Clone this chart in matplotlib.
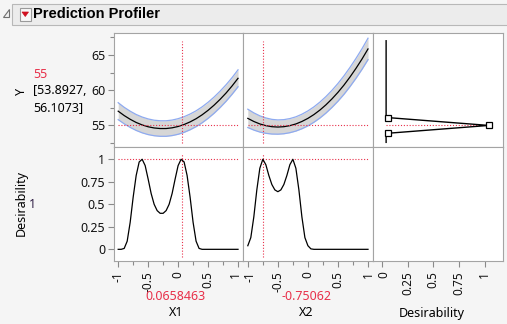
"""
JMP-style prediction profiler: predicted Y and desirability traces for X1, X2.
"""
import matplotlib
matplotlib.use("Agg")
import matplotlib.pyplot as plt
from matplotlib.patches import Rectangle, Polygon
from matplotlib.ticker import FixedLocator, MultipleLocator
from matplotlib.transforms import ScaledTranslation

plt.rcParams.update({
    "font.family": "Noto Sans",
    "font.size": 8.5,
    "axes.linewidth": 0.8,
    "xtick.color": "#8a8a8a",
    "ytick.color": "#8a8a8a",
    "xtick.labelcolor": "#111111",
    "ytick.labelcolor": "#111111",
})

W, H = 507, 324

# ---------- data ----------
x_grid = [-1.0, -0.9, -0.8, -0.7, -0.6, -0.5, -0.4, -0.3, -0.2, -0.1, 0.0,
          0.1, 0.2, 0.3, 0.4, 0.5, 0.6, 0.7, 0.8, 0.9, 1.0]
x1_pred = [57.02, 56.40, 55.87, 55.42, 55.07, 54.81, 54.64, 54.56, 54.56, 54.66, 54.85,
           55.13, 55.50, 55.95, 56.50, 57.14, 57.87, 58.69, 59.59, 60.59, 61.68]
x1_half = [1.20, 1.17, 1.15, 1.13, 1.12, 1.11, 1.10, 1.10, 1.10, 1.10, 1.105,
           1.11, 1.115, 1.12, 1.13, 1.14, 1.15, 1.16, 1.17, 1.18, 1.20]
x2_pred = [56.00, 55.56, 55.21, 54.97, 54.82, 54.77, 54.82, 54.97, 55.21, 55.56, 56.00,
           56.54, 57.18, 57.92, 58.76, 59.69, 60.72, 61.86, 63.09, 64.41, 65.84]
x2_half = [1.30, 1.22, 1.15, 1.09, 1.04, 1.01, 1.00, 1.00, 1.01, 1.03, 1.06,
           1.09, 1.13, 1.17, 1.21, 1.26, 1.31, 1.36, 1.41, 1.46, 1.52]

d_grid = [-1.0, -0.95, -0.9, -0.85, -0.8, -0.75, -0.7, -0.65, -0.6, -0.55, -0.5,
          -0.45, -0.4, -0.35, -0.3, -0.25, -0.2, -0.15, -0.1, -0.05, 0.0,
          0.05, 0.1, 0.15, 0.2, 0.25, 0.3, 0.35, 0.4, 0.45, 0.5,
          0.55, 0.6, 0.65, 0.7, 0.75, 0.8, 0.85, 0.9, 0.95, 1.0]
x1_desir = [0, 0, 0.01, 0.09, 0.30, 0.58, 0.82, 0.97, 1.00, 0.93, 0.78,
            0.62, 0.50, 0.43, 0.40, 0.40, 0.43, 0.50, 0.62, 0.78, 0.93,
            1.00, 0.97, 0.82, 0.58, 0.30, 0.09, 0.01, 0, 0, 0,
            0, 0, 0, 0, 0, 0, 0, 0, 0, 0]
x2_desir = [0.04, 0.13, 0.36, 0.66, 0.90, 1.00, 0.94, 0.82, 0.72, 0.66, 0.64,
            0.66, 0.72, 0.82, 0.94, 1.00, 0.90, 0.66, 0.36, 0.13, 0.04,
            0.005, 0, 0, 0, 0, 0, 0, 0, 0, 0,
            0, 0, 0, 0, 0, 0, 0, 0, 0, 0]

# desirability function of Y (desirability on x, Y on y)
dfun_d = [0.04, 0.04, 0.06, 1.04, 0.06, 0.04, 0.04]
dfun_y = [67.0, 56.2, 56.1073, 55.0, 53.8927, 53.8, 52.6]
dfun_marks = [2, 3, 4]

x1_now = 0.0658463
x2_now = -0.75062
y_now = 55
y_ci = (53.8927, 56.1073)
desir_now = 1

RED = "#e8304a"
BAND = "#d6d6d6"
BAND_EDGE = "#8eaaf0"
FRAME = "#a4a4a4"
DOTS = (0, (1, 1.6))

fig = plt.figure(figsize=(W / 100, H / 100), dpi=100)
fig.patch.set_facecolor("#f5f5f5")


def px_axes(l, t, r, b):
    ax = fig.add_axes([l / W, 1 - b / H, (r - l) / W, (b - t) / H])
    ax.set_facecolor("white")
    for s in ax.spines.values():
        s.set_color(FRAME)
    ax.tick_params(length=0, labelbottom=False, labelleft=False)
    return ax


def ftext(x, y, s, **kw):
    fig.text(x / W, 1 - y / H, s, **kw)


def nudge(label, dx_px):
    label.set_transform(label.get_transform()
                        + ScaledTranslation(dx_px / 100, 0, fig.dpi_scale_trans))


cols = [(113.7, 243.3), (243.3, 373.3), (373.3, 503.0)]
rows = [(33.0, 147.3), (147.3, 261.3)]
XLIM = (-1.075, 1.088)
YLIM = (51.9, 68.1)
DLIM = (-0.133, 1.133)

# ---------- top row: predicted Y ----------
for i, (pred, half, now) in enumerate([(x1_pred, x1_half, x1_now),
                                       (x2_pred, x2_half, x2_now)]):
    ax = px_axes(cols[i][0], rows[0][0], cols[i][1], rows[0][1])
    lo = [p - h for p, h in zip(pred, half)]
    hi = [p + h for p, h in zip(pred, half)]
    ax.fill_between(x_grid, lo, hi, color=BAND, lw=0)
    ax.plot(x_grid, lo, color=BAND_EDGE, lw=0.9)
    ax.plot(x_grid, hi, color=BAND_EDGE, lw=0.9)
    ax.plot(x_grid, pred, color="black", lw=0.9)
    ax.plot([-1, 1], [y_now, y_now], color=RED, lw=0.8, ls=DOTS)
    ax.plot([now, now], [52.5, 67.0], color=RED, lw=0.8, ls=DOTS)
    ax.set_xlim(*XLIM)
    ax.set_ylim(*YLIM)
    if i == 0:
        ax.yaxis.set_major_locator(FixedLocator([55, 60, 65]))
        ax.yaxis.set_minor_locator(MultipleLocator(2.5))
        ax.tick_params(axis="y", which="major", length=4.5, width=0.8,
                       pad=1.5, labelleft=True, labelsize=9)
        ax.tick_params(axis="y", which="minor", length=3, width=0.8)
    else:
        ax.set_yticks([])
    ax.set_xticks([])

# desirability function panel
ax = px_axes(cols[2][0], rows[0][0], cols[2][1], rows[0][1])
ax.plot([0.04, dfun_d[3]], [y_now, y_now], color=RED, lw=0.8, ls=DOTS)
ax.plot(dfun_d, dfun_y, color="black", lw=1.0)
ax.plot([dfun_d[k] for k in dfun_marks], [dfun_y[k] for k in dfun_marks], "s",
        ms=4, mfc="white", mec="black", mew=0.9)
ax.set_xlim(-0.085, 1.18)
ax.set_ylim(*YLIM)
ax.set_xticks([])
ax.set_yticks([])

# ---------- bottom row: desirability traces ----------
tick_lbls = ["-1", "-0.5", "0", "0.5", "1"]
for i, (des, now) in enumerate([(x1_desir, x1_now), (x2_desir, x2_now)]):
    ax = px_axes(cols[i][0], rows[1][0], cols[i][1], rows[1][1])
    ax.plot([-1, 1], [1, 1], color=RED, lw=0.8, ls=DOTS)
    ax.plot([now, now], [-0.08, 1.06], color=RED, lw=0.8, ls=DOTS)
    ax.plot(d_grid, des, color="black", lw=0.9)
    ax.set_xlim(*XLIM)
    ax.set_ylim(*DLIM)
    ax.tick_params(axis="x", which="major", length=4.5, width=0.8, pad=2.5,
                   labelbottom=True, labelsize=8.5)
    ax.tick_params(axis="x", which="minor", length=3, width=0.8)
    ax.xaxis.set_major_locator(FixedLocator([-1, -0.5, 0, 0.5, 1]))
    ax.set_xticklabels(tick_lbls, rotation=90)
    ax.xaxis.set_minor_locator(MultipleLocator(0.25))
    labels = ax.get_xticklabels()
    # keep the touching "1" / "-1" labels at the column seam apart
    if i == 0:
        nudge(labels[-1], -2.5)
        ax.set_yticks([0, 0.25, 0.5, 0.75, 1])
        ax.set_yticklabels(["0", "0.25", "0.5", "0.75", "1"])
        ax.tick_params(axis="y", length=4.5, width=0.8, pad=1.5,
                       labelleft=True, labelsize=9)
    else:
        nudge(labels[0], 2.5)
        ax.set_yticks([])

ax = px_axes(cols[2][0], rows[1][0], cols[2][1], rows[1][1])
ax.set_xlim(-0.085, 1.18)
ax.set_ylim(*DLIM)
ax.tick_params(axis="x", length=4.5, width=0.8, pad=2.5, labelbottom=True,
               labelsize=8.5)
ax.set_xticks([0, 0.25, 0.5, 0.75, 1])
ax.set_xticklabels(["0", "0.25", "0.5", "0.75", "1"], rotation=90)
nudge(ax.get_xticklabels()[0], 2)
ax.set_yticks([])

# ---------- labels around the grid ----------
ftext(21, 91, "Y", rotation=90, ha="center", va="center", fontsize=9)
ftext(33, 74.5, "55", color=RED, ha="left", va="center", fontsize=9)
ftext(33, 91, "[%.4f," % y_ci[0], ha="left", va="center", fontsize=9)
ftext(33, 107.5, "%.4f]" % y_ci[1], ha="left", va="center", fontsize=9)
ftext(21.5, 203, "Desirability", rotation=90, ha="center", va="center",
      fontsize=9)
ftext(32, 204, str(desir_now), ha="center", va="center", fontsize=9,
      color="#2a1840")
ftext(176, 296.5, "%.7f" % x1_now, color=RED, ha="center", va="center",
      fontsize=9)
ftext(176.5, 313, "X1", ha="center", va="center", fontsize=9)
ftext(306.5, 296.5, "%.5f" % x2_now, color=RED, ha="center", va="center",
      fontsize=9)
ftext(306.5, 313, "X2", ha="center", va="center", fontsize=9)
ftext(432, 313, "Desirability", ha="center", va="center", fontsize=9)

# ---------- title bar ----------
fig.add_artist(Rectangle((12 / W, 1 - 25 / H), (W - 11) / W, 21 / H,
                         transform=fig.transFigure, facecolor="#ececec",
                         edgecolor="#b8b8b8", lw=0.8))
fig.add_artist(Polygon([(9 / W, 1 - 9 / H), (9 / W, 1 - 17 / H), (2.5 / W, 1 - 17 / H)],
                       closed=True, transform=fig.transFigure,
                       facecolor="#f2f2f2", edgecolor="#707070", lw=0.8))
fig.add_artist(Rectangle((19.5 / W, 1 - 20.5 / H), 11.5 / W, 13 / H,
                         transform=fig.transFigure, facecolor="#f8f8f8",
                         edgecolor="#9a9a9a", lw=0.8))
fig.add_artist(Polygon([(22 / W, 1 - 12 / H), (28.5 / W, 1 - 12 / H),
                        (25.25 / W, 1 - 16.5 / H)], closed=True,
                       transform=fig.transFigure, facecolor="#d01020",
                       edgecolor="#d01020", lw=0.5))
ftext(33, 14.5, "Prediction Profiler", ha="left", va="center",
      fontsize=10.5, fontweight="bold", color="black",
      family="Liberation Sans")

fig.savefig("out.png", dpi=100, facecolor=fig.get_facecolor())
